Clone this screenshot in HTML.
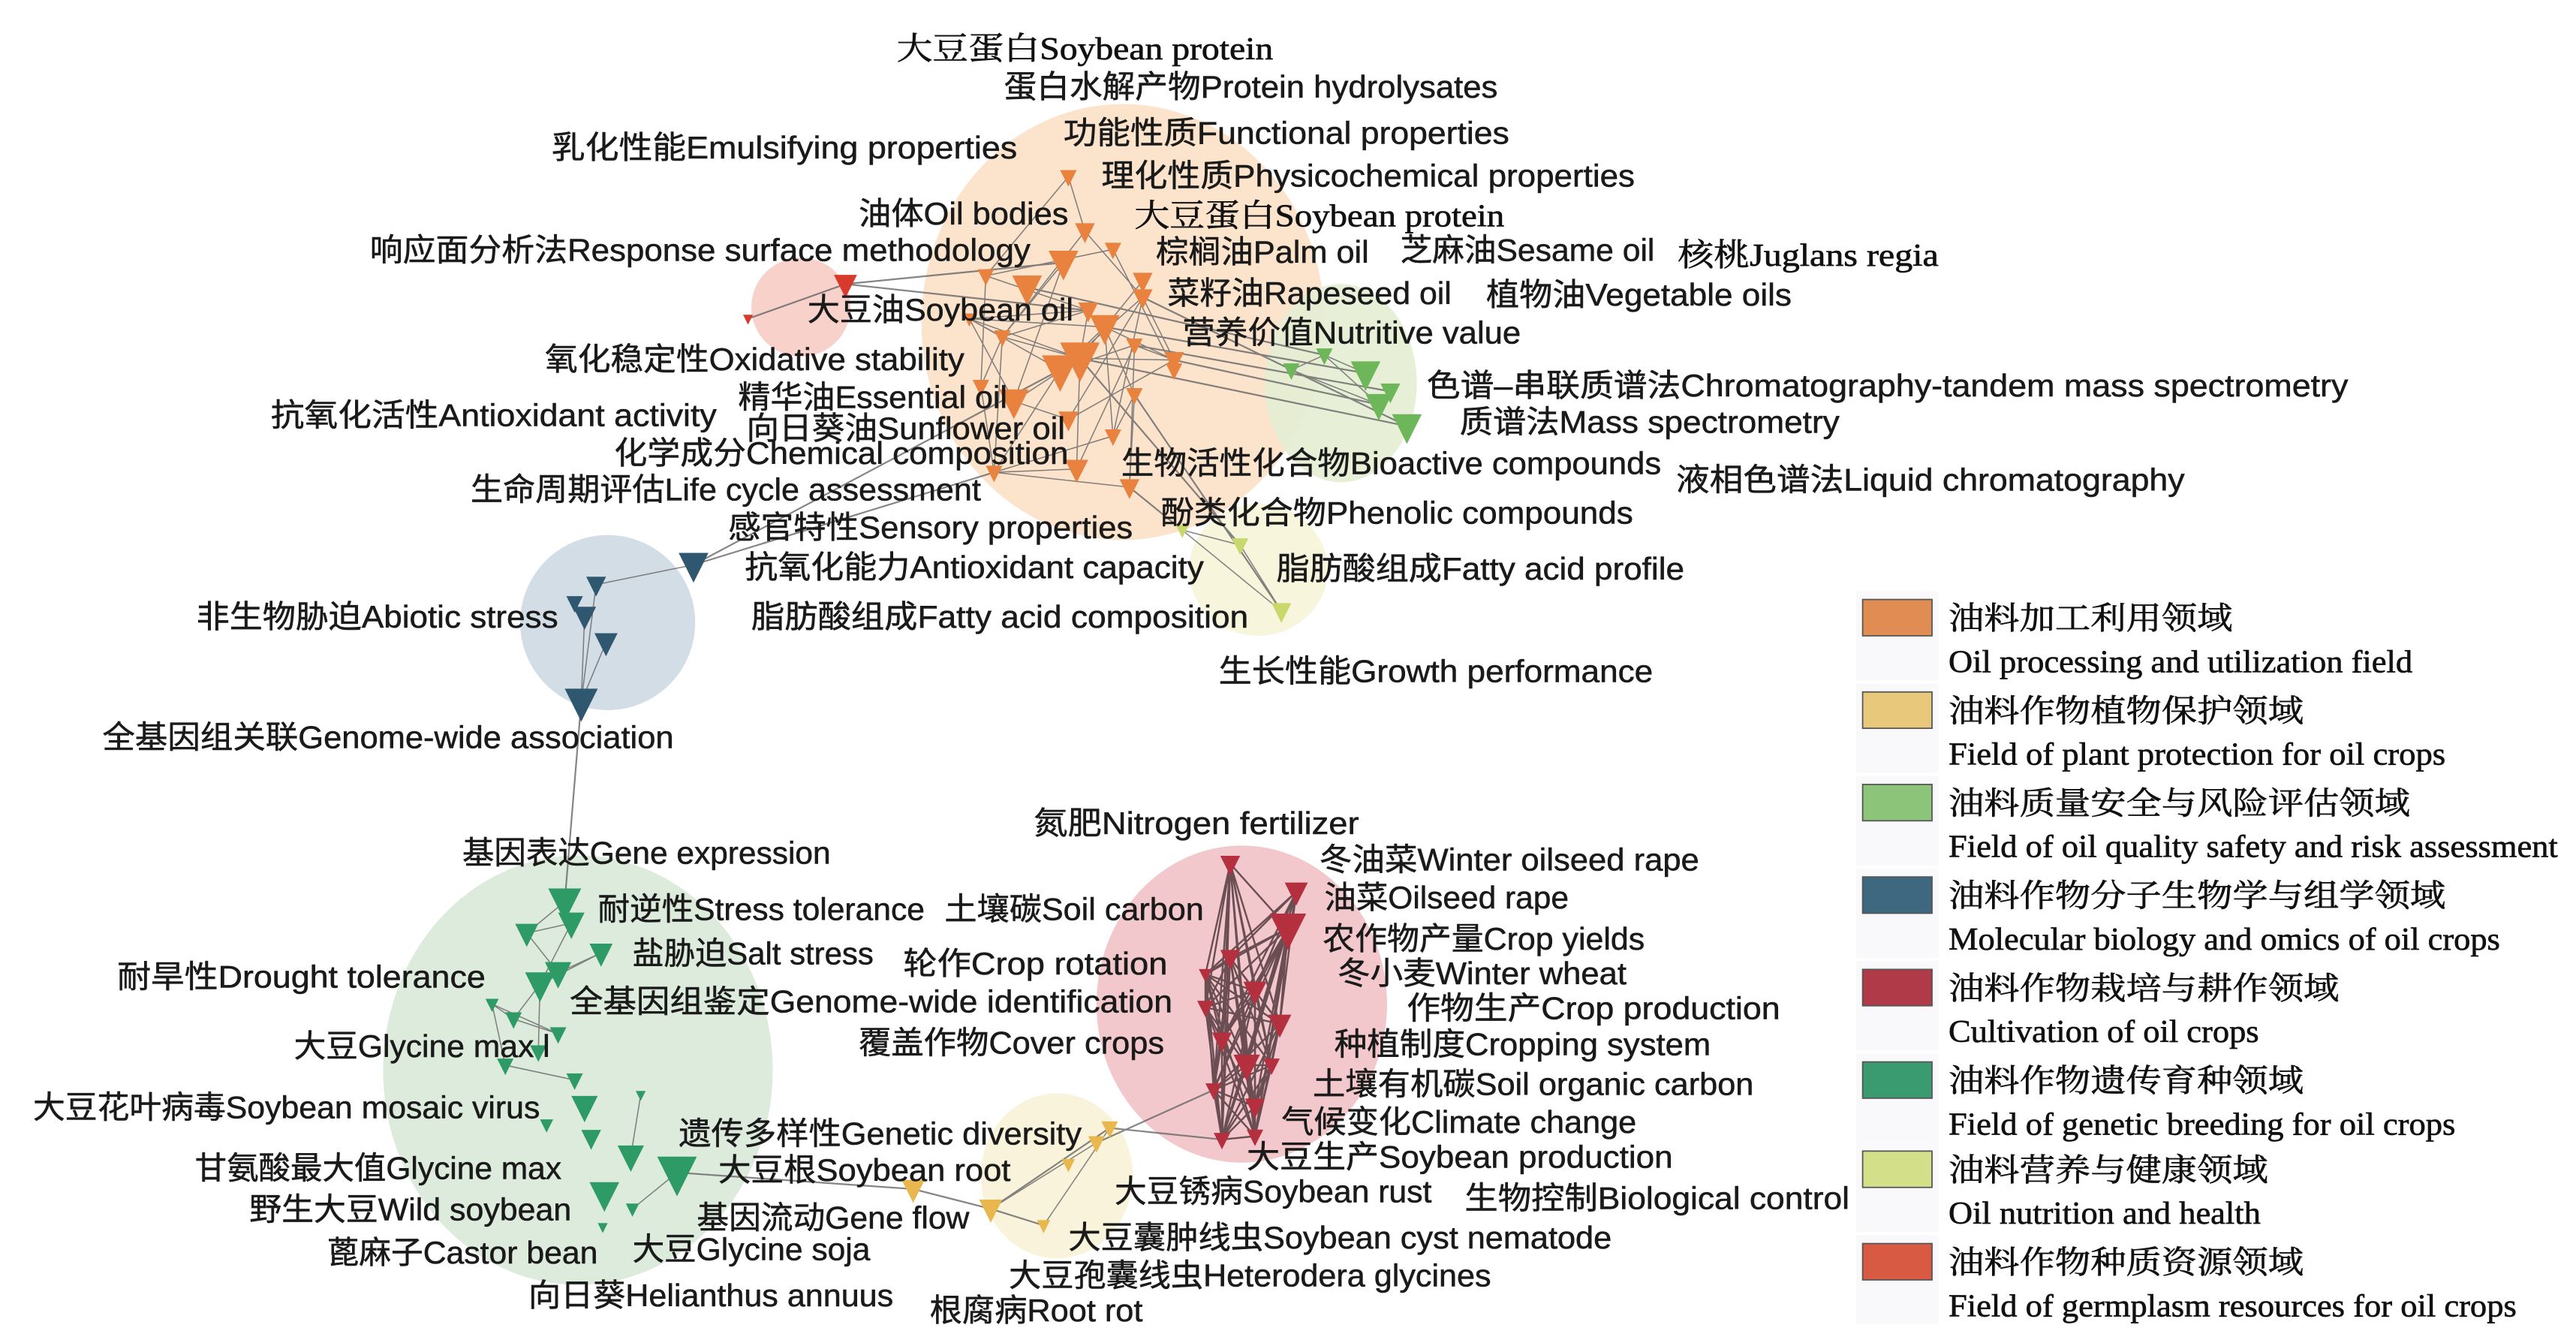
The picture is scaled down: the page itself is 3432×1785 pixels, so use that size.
<!DOCTYPE html>
<html><head><meta charset="utf-8"><style>
html,body{margin:0;padding:0;background:#fff}
svg{display:block}
.s{font-family:"Liberation Sans","Noto Sans CJK SC",sans-serif;font-size:19px;fill:#1a1a1a;stroke:#1a1a1a;stroke-width:0.25}
.f{font-family:"Liberation Serif","Noto Serif CJK SC",serif;font-size:19px;fill:#111;stroke:#111;stroke-width:0.3}
</style></head><body>
<svg id="g" width="3432" height="1785" viewBox="0 0 1560 811.4" preserveAspectRatio="none" xmlns="http://www.w3.org/2000/svg">
<ellipse cx="680" cy="195" rx="122" ry="132" fill="#fce3cc"/>
<circle cx="485" cy="186" r="30" fill="#f8d2ca"/>
<ellipse cx="812" cy="232" rx="46" ry="60" fill="#e4edd3" opacity="0.9"/>
<ellipse cx="762" cy="345" rx="42" ry="40" fill="#f7f5dc"/>
<circle cx="368" cy="377" r="53" fill="#d3dde6"/>
<ellipse cx="350" cy="648" rx="118" ry="130" fill="#dcebdc"/>
<ellipse cx="752" cy="608" rx="88" ry="96" fill="#f2c8cc"/>
<ellipse cx="640" cy="712" rx="46" ry="50" fill="#faf3db"/>
<g id="edges" stroke="#666" stroke-width="0.7" fill="none" opacity="0.8"></g>
<g id="nodes"></g>
<g class="s">
<text class="f" x="543" y="36" textLength="228" lengthAdjust="spacingAndGlyphs">大豆蛋白Soybean protein</text>
<text x="608" y="59" textLength="299" lengthAdjust="spacingAndGlyphs">蛋白水解产物Protein hydrolysates</text>
<text x="644" y="87" textLength="270" lengthAdjust="spacingAndGlyphs">功能性质Functional properties</text>
<text x="334" y="96" textLength="282" lengthAdjust="spacingAndGlyphs">乳化性能Emulsifying properties</text>
<text x="667" y="113" textLength="323" lengthAdjust="spacingAndGlyphs">理化性质Physicochemical properties</text>
<text x="520" y="136" textLength="127" lengthAdjust="spacingAndGlyphs">油体Oil bodies</text>
<text class="f" x="687" y="137" textLength="224" lengthAdjust="spacingAndGlyphs">大豆蛋白Soybean protein</text>
<text x="224" y="158" textLength="400" lengthAdjust="spacingAndGlyphs">响应面分析法Response surface methodology</text>
<text x="700" y="159" textLength="129" lengthAdjust="spacingAndGlyphs">棕榈油Palm oil</text>
<text x="848" y="158" textLength="154" lengthAdjust="spacingAndGlyphs">芝麻油Sesame oil</text>
<text class="f" x="1016" y="161" textLength="158" lengthAdjust="spacingAndGlyphs">核桃Juglans regia</text>
<text x="707" y="184" textLength="172" lengthAdjust="spacingAndGlyphs">菜籽油Rapeseed oil</text>
<text x="900" y="185" textLength="185" lengthAdjust="spacingAndGlyphs">植物油Vegetable oils</text>
<text x="489" y="194" textLength="161" lengthAdjust="spacingAndGlyphs">大豆油Soybean oil</text>
<text x="716" y="208" textLength="205" lengthAdjust="spacingAndGlyphs">营养价值Nutritive value</text>
<text x="330" y="224" textLength="254" lengthAdjust="spacingAndGlyphs">氧化稳定性Oxidative stability</text>
<text x="447" y="247" textLength="163" lengthAdjust="spacingAndGlyphs">精华油Essential oil</text>
<text x="864" y="240" textLength="558" lengthAdjust="spacingAndGlyphs">色谱–串联质谱法Chromatography-tandem mass spectrometry</text>
<text x="164" y="258" textLength="270" lengthAdjust="spacingAndGlyphs">抗氧化活性Antioxidant activity</text>
<text x="452" y="266" textLength="193" lengthAdjust="spacingAndGlyphs">向日葵油Sunflower oil</text>
<text x="884" y="262" textLength="230" lengthAdjust="spacingAndGlyphs">质谱法Mass spectrometry</text>
<text x="372" y="281" textLength="275" lengthAdjust="spacingAndGlyphs">化学成分Chemical composition</text>
<text x="679" y="287" textLength="327" lengthAdjust="spacingAndGlyphs">生物活性化合物Bioactive compounds</text>
<text x="1015" y="297" textLength="308" lengthAdjust="spacingAndGlyphs">液相色谱法Liquid chromatography</text>
<text x="285" y="303" textLength="309" lengthAdjust="spacingAndGlyphs">生命周期评估Life cycle assessment</text>
<text x="703" y="317" textLength="286" lengthAdjust="spacingAndGlyphs">酚类化合物Phenolic compounds</text>
<text x="441" y="326" textLength="245" lengthAdjust="spacingAndGlyphs">感官特性Sensory properties</text>
<text x="451" y="350" textLength="278" lengthAdjust="spacingAndGlyphs">抗氧化能力Antioxidant capacity</text>
<text x="773" y="351" textLength="247" lengthAdjust="spacingAndGlyphs">脂肪酸组成Fatty acid profile</text>
<text x="119" y="380" textLength="219" lengthAdjust="spacingAndGlyphs">非生物胁迫Abiotic stress</text>
<text x="455" y="380" textLength="301" lengthAdjust="spacingAndGlyphs">脂肪酸组成Fatty acid composition</text>
<text x="738" y="413" textLength="263" lengthAdjust="spacingAndGlyphs">生长性能Growth performance</text>
<text x="62" y="453" textLength="346" lengthAdjust="spacingAndGlyphs">全基因组关联Genome-wide association</text>
<text x="626" y="505" textLength="197" lengthAdjust="spacingAndGlyphs">氮肥Nitrogen fertilizer</text>
<text x="280" y="523" textLength="223" lengthAdjust="spacingAndGlyphs">基因表达Gene expression</text>
<text x="799" y="527" textLength="230" lengthAdjust="spacingAndGlyphs">冬油菜Winter oilseed rape</text>
<text x="802" y="550" textLength="148" lengthAdjust="spacingAndGlyphs">油菜Oilseed rape</text>
<text x="362" y="557" textLength="198" lengthAdjust="spacingAndGlyphs">耐逆性Stress tolerance</text>
<text x="572" y="557" textLength="157" lengthAdjust="spacingAndGlyphs">土壤碳Soil carbon</text>
<text x="801" y="575" textLength="195" lengthAdjust="spacingAndGlyphs">农作物产量Crop yields</text>
<text x="383" y="584" textLength="146" lengthAdjust="spacingAndGlyphs">盐胁迫Salt stress</text>
<text x="547" y="590" textLength="160" lengthAdjust="spacingAndGlyphs">轮作Crop rotation</text>
<text x="810" y="596" textLength="175" lengthAdjust="spacingAndGlyphs">冬小麦Winter wheat</text>
<text x="71" y="598" textLength="223" lengthAdjust="spacingAndGlyphs">耐旱性Drought tolerance</text>
<text x="345" y="613" textLength="365" lengthAdjust="spacingAndGlyphs">全基因组鉴定Genome-wide identification</text>
<text x="852" y="617" textLength="226" lengthAdjust="spacingAndGlyphs">作物生产Crop production</text>
<text x="520" y="638" textLength="185" lengthAdjust="spacingAndGlyphs">覆盖作物Cover crops</text>
<text x="178" y="640" textLength="155" lengthAdjust="spacingAndGlyphs">大豆Glycine max l</text>
<text x="808" y="639" textLength="228" lengthAdjust="spacingAndGlyphs">种植制度Cropping system</text>
<text x="795" y="663" textLength="267" lengthAdjust="spacingAndGlyphs">土壤有机碳Soil organic carbon</text>
<text x="20" y="677" textLength="307" lengthAdjust="spacingAndGlyphs">大豆花叶病毒Soybean mosaic virus</text>
<text x="776" y="686" textLength="215" lengthAdjust="spacingAndGlyphs">气候变化Climate change</text>
<text x="411" y="693" textLength="244" lengthAdjust="spacingAndGlyphs">遗传多样性Genetic diversity</text>
<text x="755" y="707" textLength="258" lengthAdjust="spacingAndGlyphs">大豆生产Soybean production</text>
<text x="118" y="714" textLength="222" lengthAdjust="spacingAndGlyphs">甘氨酸最大值Glycine max</text>
<text x="435" y="715" textLength="177" lengthAdjust="spacingAndGlyphs">大豆根Soybean root</text>
<text x="675" y="728" textLength="192" lengthAdjust="spacingAndGlyphs">大豆锈病Soybean rust</text>
<text x="887" y="732" textLength="233" lengthAdjust="spacingAndGlyphs">生物控制Biological control</text>
<text x="151" y="739" textLength="195" lengthAdjust="spacingAndGlyphs">野生大豆Wild soybean</text>
<text x="422" y="744" textLength="165" lengthAdjust="spacingAndGlyphs">基因流动Gene flow</text>
<text x="647" y="756" textLength="329" lengthAdjust="spacingAndGlyphs">大豆囊肿线虫Soybean cyst nematode</text>
<text x="198" y="765" textLength="164" lengthAdjust="spacingAndGlyphs">蓖麻子Castor bean</text>
<text x="383" y="763" textLength="144" lengthAdjust="spacingAndGlyphs">大豆Glycine soja</text>
<text x="611" y="779" textLength="292" lengthAdjust="spacingAndGlyphs">大豆孢囊线虫Heterodera glycines</text>
<text x="320" y="791" textLength="221" lengthAdjust="spacingAndGlyphs">向日葵Helianthus annuus</text>
<text x="563" y="800" textLength="129" lengthAdjust="spacingAndGlyphs">根腐病Root rot</text>
</g>
<g id="legend"></g>
</svg>
<script>
var NS="http://www.w3.org/2000/svg";
function el(t,a,p){var e=document.createElementNS(NS,t);for(var k in a)e.setAttribute(k,a[k]);if(p)p.appendChild(e);return e;}
var E=document.getElementById('edges'),N=document.getElementById('nodes');
var cl={
o:{c:'#e8823e',n:[[647,107,5],[657,140,6],[674,151,5],[644,159,9],[597,167,5],[692,170,6],[622,174,9],[692,180,6],[659,188,6],[587,193,4],[669,198,9],[607,204,5],[687,209,5],[711,218,6],[654,217,12],[642,224,11],[594,234,5],[614,243,9],[687,239,5],[647,254,6],[674,264,5],[652,284,7],[602,286,5],[684,295,6],[711,224,5]]},
r:{c:'#d63b2c',n:[[512,172,7],[453,193,3]]},
b:{c:'#2f5770',n:[[420,342,9],[361,354,6],[348,365,5],[354,373,7],[367,389,7],[352,425,10]]},
y:{c:'#c8d86a',n:[[716,321,4],[751,330,5],[776,370,6]]},
g:{c:'#6db65a',n:[[782,224,5],[802,215,5],[827,226,9],[842,237,6],[835,245,8],[852,258,9]]},
t:{c:'#2e9a66',n:[[342,546,10],[346,559,8],[319,565,7],[364,577,7],[338,589,8],[327,596,9],[298,608,4],[311,617,5],[338,626,5],[326,637,5],[306,645,5],[348,654,5],[354,670,8],[331,681,4],[358,689,6],[382,700,8],[410,710,12],[366,723,9],[383,732,4],[365,743,3],[388,663,3]]},
w:{c:'#e8b84e',n:[[672,683,5],[664,692,5],[647,705,4],[553,720,7],[600,732,7],[632,742,4]]},
d:{c:'#b4303e',n:[[745,523,6],[785,540,7],[780,562,11],[745,580,6],[730,590,4],[730,610,5],[760,600,7],[740,630,6],[775,620,7],[755,645,8],[735,660,5],[760,670,6],[740,690,5],[760,688,5],[770,645,5]]}
};
var s=7;function rnd(){s=(s*16807)%2147483647;return s/2147483647;}
function line(a,b,w,c){var e=el('line',{x1:a[0],y1:a[1],x2:b[0],y2:b[1],'stroke-width':w||0.7},E);if(c)e.setAttribute('stroke',c);}
for(var k in cl){var n=cl[k].n;for(var i=0;i<n.length;i++)for(var j=i+1;j<n.length;j++){var dx=n[i][0]-n[j][0],dy=n[i][1]-n[j][1],d=Math.sqrt(dx*dx+dy*dy);var p=k=='d'?0.85:(k=='o'?0.25:0.35);if(d<(k=='t'?45:(k=='d'?200:90))&&rnd()<p)line(n[i],n[j],k=='d'?1.1:0.7,k=='d'?'#4a3035':null);}}
var X=[[[453,193],[512,172]],[[512,172],[644,159]],[[512,172],[659,188]],[[420,342],[602,286]],[[420,342],[642,224]],[[352,425],[342,546]],[[410,710],[553,720]],[[553,720],[600,732]],[[600,732],[672,683]],[[672,683],[740,690]],[[664,692],[735,660]],[[600,732],[632,742]],[[654,217],[852,258]],[[669,198],[827,226]],[[711,218],[835,245]],[[687,209],[842,237]],[[692,180],[852,258]],[[684,295],[716,321]],[[687,239],[776,370]],[[654,217],[751,330]],[[622,174],[802,215]]];
X.forEach(function(p){line(p[0],p[1],1)});
for(var k in cl){cl[k].n.forEach(function(p){var r=p[2];el('polygon',{points:(p[0]-r)+','+(p[1]-r*0.8)+' '+(p[0]+r)+','+(p[1]-r*0.8)+' '+p[0]+','+(p[1]+r*1.2),fill:cl[k].c},N);});}
var L=document.getElementById('legend');
var items=[['#e08c52','油料加工利用领域','Oil processing and utilization field',281],['#e8c87a','油料作物植物保护领域','Field of plant protection for oil crops',301],['#8cc47a','油料质量安全与风险评估领域','Field of oil quality safety and risk assessment',369],['#3d6880','油料作物分子生物学与组学领域','Molecular biology and omics of oil crops',334],['#b03a48','油料作物栽培与耕作领域','Cultivation of oil crops',188],['#3a9a70','油料作物遗传育种领域','Field of genetic breeding for oil crops',307],['#d4df8a','油料营养与健康领域','Oil nutrition and health',189],['#d85a42','油料作物种质资源领域','Field of germplasm resources for oil crops',344]];
var ys=[374,430,486,542,598,654,708,764];
items.forEach(function(it,i){var y=ys[i];
el('rect',{x:1124,y:y-16,width:50,height:54,fill:'#f9f9fb'},L);
el('rect',{x:1128,y:y-11,width:42,height:22,fill:it[0],stroke:'#555','stroke-width':0.8},L);
var t=el('text',{x:1180,y:y+7,'class':'f'},L);t.textContent=it[1];
var w=it[1].length*21.5;t.setAttribute('textLength',w);t.setAttribute('lengthAdjust','spacingAndGlyphs');
var t2=el('text',{x:1180,y:y+33,'class':'f'},L);t2.textContent=it[2];t2.setAttribute('textLength',it[3]);t2.setAttribute('lengthAdjust','spacingAndGlyphs');});
</script>
</body></html>
